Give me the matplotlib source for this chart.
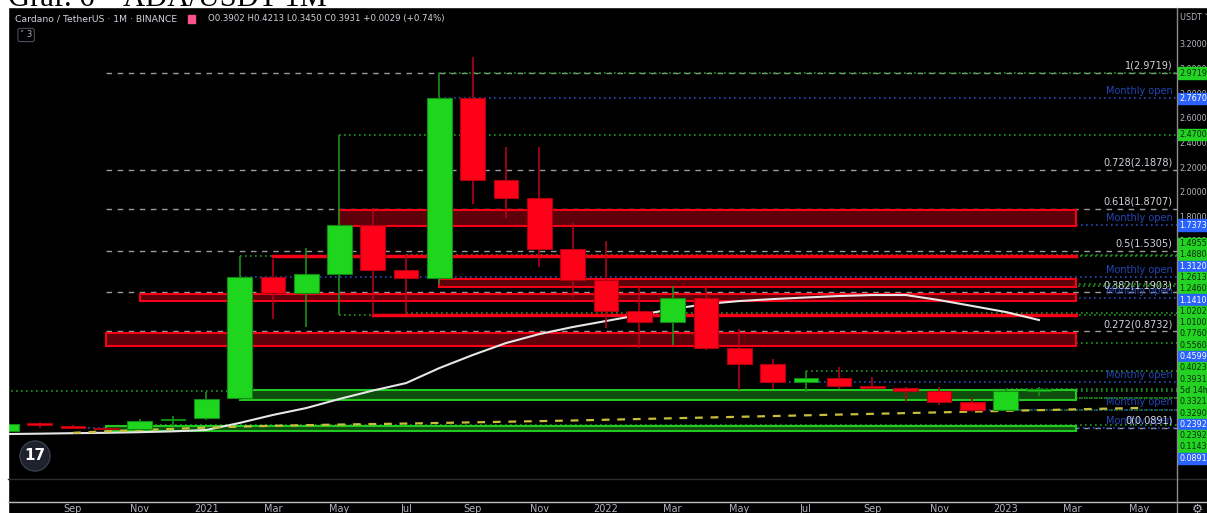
import matplotlib
matplotlib.use('Agg')
import matplotlib.pyplot as plt
from matplotlib.patches import Rectangle, Circle
from matplotlib.lines import Line2D
from matplotlib.transforms import IdentityTransform

plt.rcParams['font.family'] = ['Liberation Sans Narrow', 'DejaVu Sans']

W, H = 1207, 513

# monthly candles, month 0 = Jan 2021 (Jul 2020 .. Feb 2023)
months = list(range(-6, 26))
opens = [0.065, 0.125, 0.100, 0.085, 0.080, 0.150, 0.170, 0.330, 1.312, 1.185,
         1.340, 1.7373, 1.372, 1.307, 2.767, 2.103, 1.957, 1.543, 1.291, 1.039,
         0.950, 1.141, 0.739, 0.609, 0.4599, 0.495, 0.430, 0.414, 0.390, 0.300,
         0.2392, 0.3902]
highs = [0.130, 0.137, 0.110, 0.090, 0.165, 0.187, 0.381, 1.488, 1.460, 1.551,
         2.470, 1.876, 1.4955, 2.9719, 3.100, 2.371, 2.371, 1.754, 1.610, 1.234,
         1.240, 1.234, 0.893, 0.649, 0.556, 0.584, 0.503, 0.422, 0.422, 0.330,
         0.4023, 0.4213]
lows = [0.060, 0.090, 0.080, 0.075, 0.075, 0.105, 0.150, 0.320, 0.974, 0.909,
        1.010, 1.007, 1.0202, 1.2613, 1.908, 1.794, 1.396, 1.150, 0.901, 0.739,
        0.763, 0.723, 0.398, 0.406, 0.381, 0.406, 0.405, 0.308, 0.276, 0.220,
        0.2392, 0.3450]
closes = [0.121, 0.117, 0.093, 0.080, 0.146, 0.162, 0.324, 1.312, 1.185, 1.340,
          1.7373, 1.372, 1.307, 2.767, 2.103, 1.957, 1.543, 1.291, 1.039, 0.950,
          1.141, 0.739, 0.609, 0.4599, 0.495, 0.430, 0.414, 0.390, 0.300, 0.2392,
          0.3902, 0.3931]

# white moving average
ma_values = [0.040, 0.043, 0.047, 0.050, 0.055, 0.062, 0.073, 0.130, 0.195, 0.251,
             0.325, 0.393, 0.454, 0.576, 0.682, 0.779, 0.852, 0.909, 0.958, 1.007,
             1.055, 1.096, 1.120, 1.136, 1.149, 1.161, 1.169, 1.169, 1.128, 1.080,
             1.031, 0.966]

# yellow dashed curve, from Sep 2020 to May 2023
yellow_months = list(range(-4, 29))
yellow_values = [0.050, 0.062, 0.072, 0.082, 0.092, 0.100, 0.107, 0.112, 0.117, 0.121,
                 0.125, 0.130, 0.135, 0.140, 0.145, 0.150, 0.156, 0.162, 0.168, 0.174,
                 0.180, 0.186, 0.192, 0.198, 0.204, 0.210, 0.216, 0.222, 0.228, 0.234,
                 0.240, 0.246, 0.252]

# fibonacci retracement
fib_low, fib_high = 0.0891, 2.9719
fib_ratios = [1, 0.728, 0.618, 0.5, 0.382, 0.272, 0]
fib_start = -3

# zones (start month, low, high)
red_zone_start = [4.0, 7.0, -2.0, -3.0]
red_zone_low = [1.729, 1.234, 1.120, 0.755]
red_zone_high = [1.859, 1.299, 1.177, 0.860]
red_line_start = [2.0, 5.0]
red_line_value = [1.4880, 1.0100]
green_zone_start = [1.0, -3.0]
green_zone_low = [0.316, 0.064]
green_zone_high = [0.3975, 0.105]
zone_end = 26.1

# monthly open lines (blue)
open_values = [2.7670, 1.7373, 1.3120, 1.1410, 0.4599, 0.2392, 0.0891]
open_start = [7, 4.5, 1, 14.5, 17.5, 23.5, -4]

# price level lines (green)
level_values = [2.9719, 2.4700, 1.4955, 1.4880, 1.2613, 1.2460, 1.0202, 1.0100,
                0.7760, 0.5560, 0.4023, 0.3931, 0.3321, 0.3290, 0.2392, 0.1143]
level_start = [7, 4, 6, 1, 7, 11, 6, 4, 15, 18, 24, -6, 22, 21, 24, -2]
current_price = 0.3931
countdown = '5d 14h'

tick_months = list(range(-4, 29, 2))
tick_labels = ['Sep', 'Nov', '2021', 'Mar', 'May', 'Jul', 'Sep', 'Nov', '2022',
               'Mar', 'May', 'Jul', 'Sep', 'Nov', '2023', 'Mar', 'May']
price_ticks = [round(0.2 * i, 1) for i in range(17)]

GREEN, GREEN_EDGE, GREEN_WICK = '#1fd61f', '#128a12', '#1a8f1a'
RED, RED_EDGE, RED_WICK = '#ff0019', '#b0000f', '#b3001a'
TXT = '#d1d4dc'
TICK = '#b2b5be'

fig = plt.figure(figsize=(W / 100, H / 100), dpi=100, facecolor='black')


def fx(x):
    return x / W


def fy(y):
    return 1 - y / H


ax = fig.add_axes([fx(8), fy(478), (1177 - 8) / W, (478 - 8) / H])
ax.set_xlim(-5.952, 29.143)
ax.set_ylim(-0.317, 3.5)
ax.axis('off')
xmax = 29.2

# fib lines
for r in fib_ratios:
    p = fib_low + r * (fib_high - fib_low)
    ax.plot([fib_start, xmax], [p, p], color='#9b9b9b', lw=1, ls=(0, (4, 4)), zorder=2)
    lab = '%s(%.4f)' % (('%g' % r), p)
    ax.annotate(lab, (0.996, p), xycoords=ax.get_yaxis_transform(), xytext=(0, 1.5),
                textcoords='offset points', ha='right', va='bottom', color=TXT,
                fontsize=7, zorder=9)

# green level lines and blue monthly open lines
for v, s in zip(level_values, level_start):
    ax.plot([s, xmax], [v, v], color='#1f9a1f', lw=1.2, ls=(0, (1, 2)), zorder=2)
for v, s in zip(open_values, open_start):
    ax.plot([s, xmax], [v, v], color='#2a4bb8', lw=1.2, ls=(0, (1, 2)), zorder=2)
    ax.annotate('Monthly open', (0.996, v), xycoords=ax.get_yaxis_transform(),
                xytext=(0, 1.5), textcoords='offset points', ha='right', va='bottom',
                color='#2446b8', fontsize=7, zorder=8)

# zones
for s, lo, hi in zip(red_zone_start, red_zone_low, red_zone_high):
    ax.barh(lo, zone_end - s, left=s, height=hi - lo, align='edge',
            color='#5e0009', edgecolor='#f50016', lw=1.5, zorder=3)
for s, v in zip(red_line_start, red_line_value):
    ax.plot([s, zone_end], [v, v], color='#f50016', lw=2.5, zorder=3)
for s, lo, hi in zip(green_zone_start, green_zone_low, green_zone_high):
    ax.barh(lo, zone_end - s, left=s, height=hi - lo, align='edge',
            color='#0e4d0e', edgecolor='#22c822', lw=1.5, zorder=3)

# moving averages
ax.plot(months, ma_values, color='#e6e6e6', lw=1.5, zorder=4)
ax.plot(yellow_months, yellow_values, color='#c9be3a', lw=1.6, ls=(0, (3.5, 3.5)), zorder=4)

# candles
up = [c >= o for o, c in zip(opens, closes)]
ax.vlines(months, lows, highs, colors=[GREEN_WICK if u else RED_WICK for u in up],
          lw=1.2, zorder=5)
bodies = [max(abs(c - o), 0.012) for o, c in zip(opens, closes)]
bottoms = [min(o, c) for o, c in zip(opens, closes)]
ax.bar(months, bodies, bottom=bottoms, width=0.74,
       color=[GREEN if u else RED for u in up],
       edgecolor=[GREEN_EDGE if u else RED_EDGE for u in up], lw=0.8, zorder=6)

# time scale labels
for m, lab in zip(tick_months, tick_labels):
    ax.text(m, (478 - 504) / 470, lab, transform=ax.get_xaxis_transform(),
            ha='center', va='top', color=TICK, fontsize=7)

# right price scale
axr = fig.add_axes([fx(1177), 0, 30 / W, 1])
axr.set_xlim(0, 30)
axr.set_ylim(H, 0)
axr.axis('off')


def to_px(p):
    return H - ax.transData.transform((0, p))[1]


for t in price_ticks:
    y = to_px(t)
    if 12 < y < 476:
        axr.text(2.5, y, '%.4f' % t, va='center', color=TICK, fontsize=5.8, zorder=1)
axr.text(2.5, 17, 'USDT ˅', va='center', color=TICK, fontsize=5.8)

labels = [(v, 1, 'green', '%.4f' % v) for v in level_values]
labels += [(v, 0, 'blue', '%.4f' % v) for v in open_values]
labels.append((current_price, 2, 'green', countdown))
labels.sort(key=lambda a: (-a[0], a[1]))

row = 11.3
wanted = [to_px(a[0]) for a in labels]
groups = [[y] for y in wanted]
merged = True
while merged:
    merged = False
    out = []
    for g in groups:
        if out:
            prev = out[-1]
            pb = sum(prev) / len(prev) + (len(prev) - 1) * row / 2
            gt = sum(g) / len(g) - (len(g) - 1) * row / 2
            if gt - pb < row:
                out[-1] = prev + g
                merged = True
                continue
        out.append(g)
    groups = out
placed = []
for g in groups:
    c = sum(g) / len(g)
    placed += [c + (i - (len(g) - 1) / 2) * row for i in range(len(g))]

for (v, k, kind, text), y in zip(labels, placed):
    fc = '#22d322' if kind == 'green' else '#2962ff'
    tc = '#0a2a0a' if kind == 'green' else 'white'
    axr.add_patch(Rectangle((1, y - row / 2), 29, row, color=fc, zorder=3))
    axr.text(2.5, y, text, va='center', color=tc, fontsize=5.8, zorder=4)

# frame lines
fig.add_artist(Line2D([fx(8), 1], [fy(479), fy(479)], color='#2b2b30', lw=1))
fig.add_artist(Line2D([fx(8), 1], [fy(501.5), fy(501.5)], color='#bdbdbd', lw=1))
fig.add_artist(Line2D([fx(1177), fx(1177)], [fy(8), 0], color='#8c8c8c', lw=1))

# white border strips and title
fig.add_artist(Rectangle((0, fy(7)), 1, 7 / H, transform=fig.transFigure,
                         color='white', zorder=1))
fig.add_artist(Rectangle((0, 0), 8 / W, 1, transform=fig.transFigure,
                         color='white', zorder=1))
fig.text(fx(8), fy(6), 'Graf. 6 – ADA/USDT 1M', fontsize=22, family='Liberation Serif',
         color='black', va='baseline', zorder=2)

# header
fig.text(fx(15), fy(19), 'Cardano / TetherUS · 1M · BINANCE', color=TXT, fontsize=6.7,
         va='center')
fig.add_artist(Rectangle((fx(188), fy(23)), 7 / W, 8 / H, transform=fig.transFigure,
                         color='#f7528a'))
fig.text(fx(208), fy(19), 'O0.3902 H0.4213 L0.3450 C0.3931 +0.0029 (+0.74%)',
         color=TXT, fontsize=6.2, va='center')
fig.text(fx(20), fy(35), '˅ 3', color=TICK, fontsize=6, va='center',
         bbox=dict(boxstyle='round,pad=0.25', fc='black', ec='#4a4e59', lw=0.8))

# logo and gear
fig.add_artist(Circle((35, H - 456), 15, transform=IdentityTransform(),
                      fc='#1e222d', ec='#3a3f4b', lw=1))
fig.text(fx(35), fy(456), '17', color='white', fontsize=11, fontweight='heavy',
         ha='center', va='center')
fig.text(fx(1197), fy(509), '⚙', color=TICK, fontsize=9, ha='center', va='center')

fig.savefig('out.png', dpi=100, facecolor='black')
